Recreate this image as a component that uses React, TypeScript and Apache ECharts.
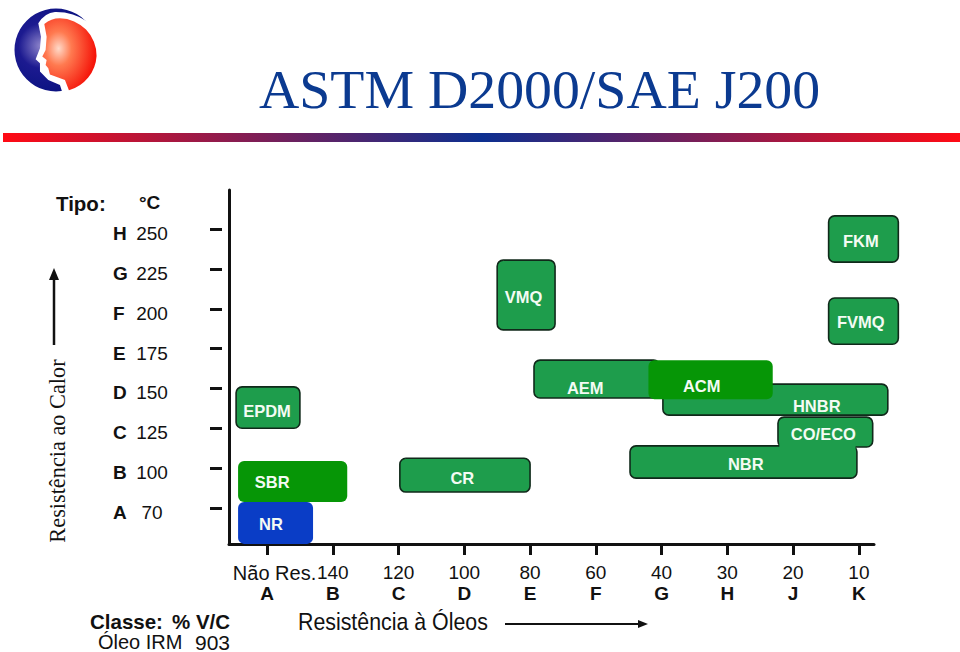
import React, { useEffect, useRef } from "react";
import * as echarts from "echarts";

const oilGrades = ["Não Res.", "140", "120", "100", "80", "60", "40", "30", "20", "10"];
const oilClasses = ["A", "B", "C", "D", "E", "F", "G", "H", "J", "K"];
const heatTemps = ["70", "100", "125", "150", "175", "200", "225", "250"];
const heatTypes = ["A", "B", "C", "D", "E", "F", "G", "H"];

const polymers = ["EPDM", "NR", "SBR", "CR", "VMQ", "FKM", "FVMQ", "HNBR", "AEM", "ACM", "CO/ECO", "NBR", ""];
const oilFrom = [-0.47, -0.44, -0.44, 2.02, 3.5, 8.54, 8.54, 6.02, 4.06, 5.8, 7.77, 5.52, 7.79];
const oilTo = [0.5, 0.7, 1.22, 4.0, 4.38, 9.6, 9.6, 9.44, 5.97, 7.69, 9.21, 8.97, 8.95];
const heatFrom = [2.0, -0.9, 0.15, 0.4, 4.47, 6.17, 4.11, 2.33, 2.76, 2.73, 1.53, 0.75, 1.43];
const heatTo = [3.04, 0.15, 1.18, 1.25, 6.22, 7.33, 5.27, 3.11, 3.71, 3.71, 2.28, 1.56, 1.68];
const nameOil = [0.0, 0.06, 0.08, 2.97, 3.9, 9.03, 9.03, 8.36, 4.84, 6.61, 8.46, 7.28, 8.3];
const nameHeat = [2.44, -0.4, 0.66, 0.75, 5.29, 6.7, 4.66, 2.56, 3.0, 3.06, 1.86, 1.1, 1.5];

const PLAIN = "#1e9d4c";
const DEEP = "#069606";
const BLUE = "#0a3dc6";
const fills: Record<string, string> = { NR: BLUE, SBR: DEEP, ACM: DEEP };
const unframed = new Set(["NR", "SBR", "ACM", ""]);
const SANS = "'Liberation Sans', Arial, sans-serif";
const SERIF = "'Liberation Serif', 'Times New Roman', serif";

echarts.graphic.registerShape(
  "logoWhite",
  echarts.graphic.extendPath(
    "M248 65 Q205 35 150 36 Q120 38 100 70 L108 110 L105 145 L92 178 L105 190 L105 215 L130 240 L165 255 L172 277 L192 285 L300 300 L300 20 L248 30 Z",
    {} as any
  )
);
echarts.graphic.registerShape(
  "logoFace",
  echarts.graphic.extendPath(
    "M118 72 Q138 55 165 55 A112 112 0 0 1 275 168 A114 114 0 0 1 192 271 L180 240 L135 224 L130 205 L122 195 L125 180 L112 170 L122 150 L125 110 Z",
    {} as any
  )
);

const renderBox = (params: any, api: any) => {
  const i = params.dataIndex;
  const name = polymers[i];
  const [x0, y0] = api.coord([api.value(0), api.value(3)]);
  const [x1, y1] = api.coord([api.value(1), api.value(2)]);
  const [tx, ty] = api.coord([api.value(4), api.value(5)]);
  return {
    type: "group",
    children: [
      {
        type: "rect",
        shape: { x: x0, y: y0, width: x1 - x0, height: y1 - y0, r: name ? 6 : 0 },
        style: {
          fill: fills[name] || PLAIN,
          stroke: unframed.has(name) ? null : "#10291a",
          lineWidth: unframed.has(name) ? 0 : 1.6,
        },
      },
      {
        type: "text",
        style: {
          x: tx,
          y: ty,
          text: name,
          fill: "#f4fbf4",
          font: `bold 16.5px ${SANS}`,
          align: "center",
          verticalAlign: "middle",
        },
      },
    ],
  };
};

const text = (x: number, y: number, t: string, font: string, extra: any = {}) => ({
  type: "text",
  x,
  y,
  ...(extra.rotation ? { rotation: extra.rotation } : {}),
  ...(extra.scaleX ? { scaleX: extra.scaleX } : {}),
  style: {
    text: t,
    font,
    fill: "#111",
    verticalAlign: "middle",
    align: extra.align || "left",
    ...(extra.lineHeight ? { lineHeight: extra.lineHeight } : {}),
  },
});

export default function App() {
  const ref = useRef<HTMLDivElement>(null);
  useEffect(() => {
    if (!ref.current) return;
    const chart = echarts.init(ref.current, undefined, { renderer: "svg" });
    chart.setOption({
      animation: false,
      backgroundColor: "#fff",
      title: {
        text: "ASTM D2000/SAE J200",
        left: 254,
        top: 56,
        textStyle: { fontFamily: SERIF, fontSize: 55.8, fontWeight: "normal", color: "#0b3a90" },
      },
      grid: { left: 229, right: 86, top: 190, bottom: 108 },
      xAxis: {
        type: "value",
        min: -0.578,
        max: 9.23,
        splitLine: { show: false },
        axisLine: { onZero: false, lineStyle: { color: "#111", width: 3 } },
        axisTick: {
          show: true,
          length: 11,
          lineStyle: { color: "#111", width: 3 },
          customValues: oilGrades.map((_, i) => i),
        },
        axisLabel: {
          customValues: oilGrades.map((_, i) => i),
          margin: 18,
          color: "#111",
          fontFamily: SANS,
          fontSize: 19,
          hideOverlap: false,
          showMinLabel: true,
          showMaxLabel: true,
          formatter: (v: number) =>
            `{${v === 0 ? "first" : "n"}|${oilGrades[v]}}\n{b|${oilClasses[v]}}`,
          rich: {
            n: { fontFamily: SANS, fontSize: 19, color: "#111", lineHeight: 21 },
            first: { fontFamily: SANS, fontSize: 20, color: "#111", lineHeight: 21, padding: [0, 0, 0, 15] },
            b: { fontFamily: SANS, fontSize: 19, fontWeight: "bold", color: "#111", lineHeight: 20 },
          },
        },
      },
      yAxis: [
        {
          type: "value",
          min: -0.903,
          max: 7.98,
          splitLine: { show: false },
          axisLine: { show: true, onZero: false, lineStyle: { color: "#111", width: 3 } },
          axisTick: { show: false },
          axisLabel: { show: false },
        },
        {
          type: "value",
          position: "left",
          offset: 7,
          min: -0.903,
          max: 7.98,
          splitLine: { show: false },
          axisLine: { show: false, onZero: false },
          axisTick: {
            show: true,
            length: 12,
            lineStyle: { color: "#111", width: 3 },
            customValues: heatTemps.map((_, i) => i),
          },
          axisLabel: {
            customValues: heatTemps.map((_, i) => i),
            margin: 109,
            align: "left",
            padding: [9, 0, 0, 0],
            formatter: (v: number) => `{b|${heatTypes[v]}}{n|${heatTemps[v]}}`,
            rich: {
              b: { fontFamily: SANS, fontSize: 19, fontWeight: "bold", color: "#111", width: 21, align: "left" },
              n: { fontFamily: SANS, fontSize: 19, color: "#111", width: 36, align: "center" },
            },
          },
        },
      ],
      series: [
        {
          type: "custom",
          clip: false,
          xAxisIndex: 0,
          yAxisIndex: 0,
          renderItem: renderBox,
          encode: { x: [0, 1], y: [2, 3] },
          data: polymers.map((_, i) => [oilFrom[i], oilTo[i], heatFrom[i], heatTo[i], nameOil[i], nameHeat[i]]),
        },
      ],
      graphic: [
        {
          type: "rect",
          shape: { x: 3, y: 133, width: 957, height: 9 },
          style: {
            fill: new echarts.graphic.LinearGradient(0, 0, 1, 0, [
              { offset: 0, color: "#ff0a14" },
              { offset: 0.5, color: "#0c2f90" },
              { offset: 1, color: "#ff0a14" },
            ]),
          },
        },
        {
          type: "circle",
          shape: { cx: 56, cy: 50, r: 41.5 },
          style: {
            fill: new echarts.graphic.RadialGradient(0.32, 0.45, 0.6, [
              { offset: 0, color: "#8f86cc" },
              { offset: 0.45, color: "#1c1a90" },
              { offset: 1, color: "#0a1280" },
            ]),
          },
        },
        { type: "logoWhite", x: 5, y: 0, scaleX: 1 / 3, scaleY: 1 / 3, style: { fill: "#fff" } },
        {
          type: "logoFace",
          x: 5,
          y: 0,
          scaleX: 1 / 3,
          scaleY: 1 / 3,
          style: {
            fill: new echarts.graphic.RadialGradient(0.3, 0.42, 0.68, [
              { offset: 0, color: "#ffd9c8" },
              { offset: 0.35, color: "#ff7a50" },
              { offset: 1, color: "#f5150a" },
            ]),
          },
        },
        text(56, 203, "Tipo:", `bold 20.5px ${SANS}`),
        text(139, 202, "°C", `bold 19px ${SANS}`),
        text(57, 451, "Resistência ao Calor", `22.3px ${SERIF}`, { align: "center", rotation: Math.PI / 2 }),
        {
          type: "line",
          shape: { x1: 54, y1: 345, x2: 54, y2: 276 },
          style: { stroke: "#111", lineWidth: 2.5 },
        },
        { type: "polygon", shape: { points: [[54, 268], [49, 280], [59, 280]] }, style: { fill: "#111" } },
        text(90, 621, "Classe:", `bold 20.5px ${SANS}`, { lineHeight: 20 }),
        text(172, 621, "% V/C", `bold 20.5px ${SANS}`, { lineHeight: 20 }),
        text(98, 642, "Óleo IRM", `20px ${SANS}`, { lineHeight: 20 }),
        text(195, 642, "903", `21px ${SANS}`, { lineHeight: 20 }),
        text(298, 622, "Resistência à Óleos", `24px ${SANS}`, { scaleX: 0.89 }),
        {
          type: "line",
          shape: { x1: 505, y1: 624, x2: 640, y2: 624 },
          style: { stroke: "#111", lineWidth: 2 },
        },
        { type: "polygon", shape: { points: [[648, 624], [638, 620], [638, 628]] }, style: { fill: "#111" } },
      ],
    });
    return () => chart.dispose();
  }, []);
  return <div ref={ref} style={{ position: "absolute", left: 0, top: 0, width: 960, height: 652 }} />;
}
